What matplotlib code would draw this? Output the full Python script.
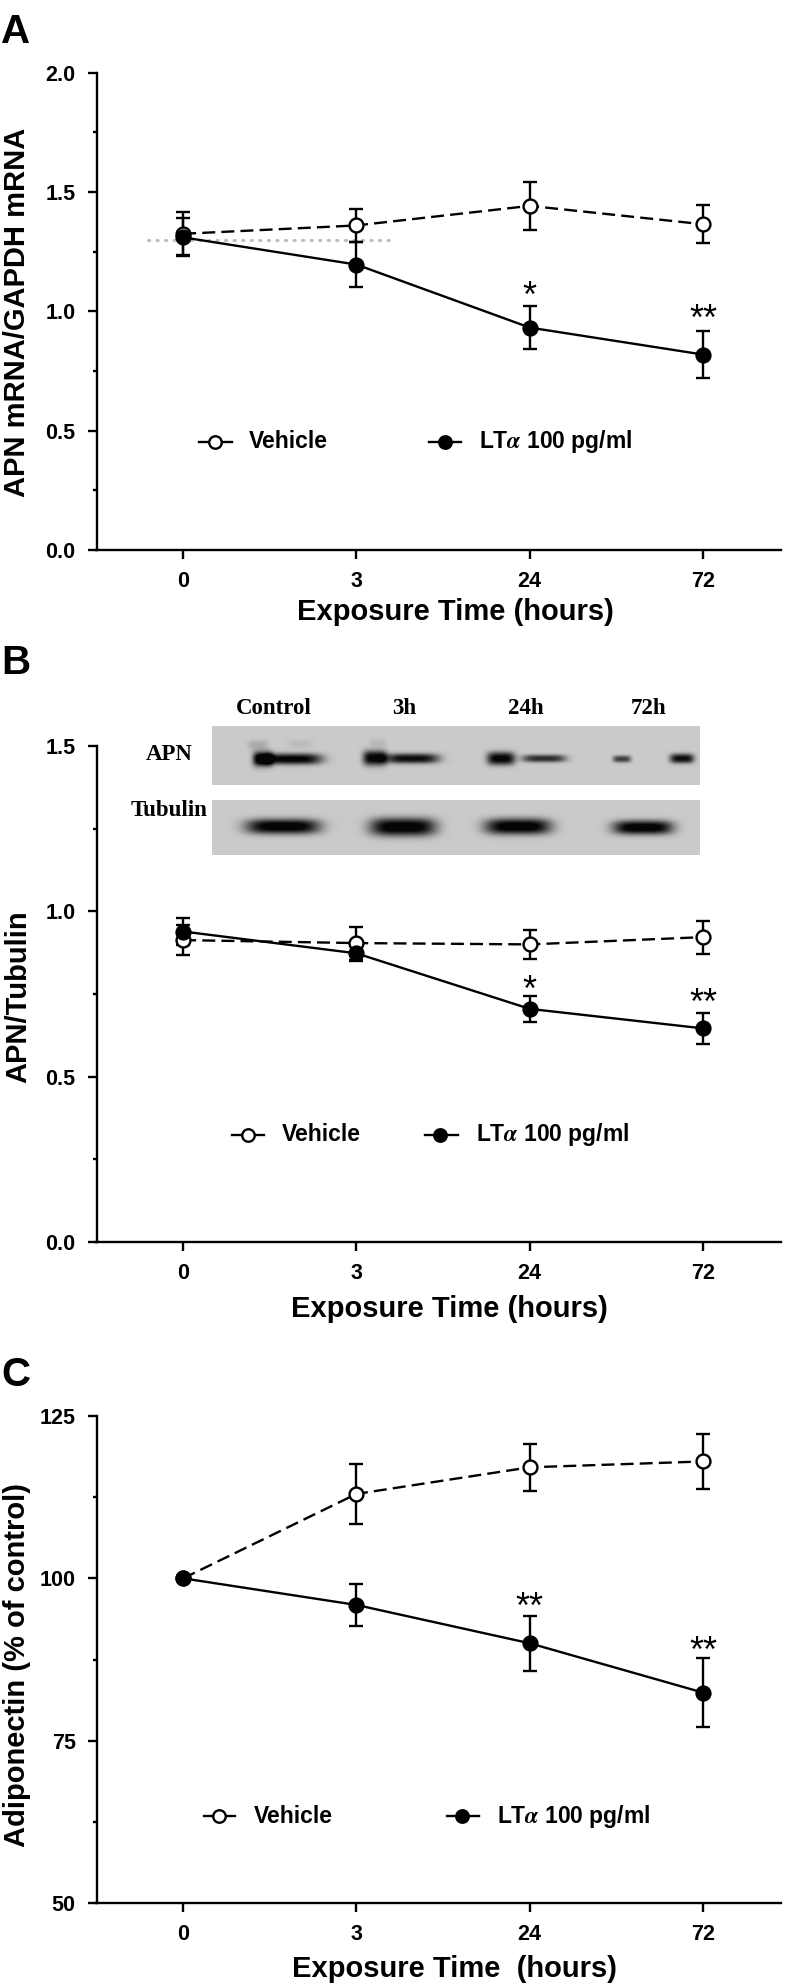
import numpy as np
import matplotlib
matplotlib.use("Agg")
import matplotlib.pyplot as plt
from matplotlib.ticker import MultipleLocator

W, H = 796, 1988

time_labels = ["0", "3", "24", "72"]

# Panel A : APN mRNA / GAPDH mRNA
a_vehicle = [1.325, 1.36, 1.442, 1.365]
a_vehicle_err = [0.09, 0.07, 0.10, 0.08]
a_lta = [1.31, 1.196, 0.932, 0.819]
a_lta_err = [0.08, 0.095, 0.09, 0.10]
a_stars = ["", "", "*", "**"]
a_star_y = [0, 0, 1.106, 1.009]
a_ref_y = 1.30
a_ref_x = [-0.2, 1.19]

# Panel B : APN / Tubulin
b_vehicle = [0.913, 0.904, 0.900, 0.922]
b_vehicle_err = [0.046, 0.05, 0.044, 0.05]
b_lta = [0.939, 0.873, 0.705, 0.646]
b_lta_err = [0.041, 0.022, 0.04, 0.047]
b_stars = ["", "", "*", "**"]
b_star_y = [0, 0, 0.793, 0.753]

# Panel C : Adiponectin (% of control)
c_vehicle = [100, 113.0, 117.1, 118.0]
c_vehicle_err = [0, 4.6, 3.6, 4.2]
c_lta = [100, 95.9, 90.0, 82.4]
c_lta_err = [0, 3.2, 4.2, 5.3]
c_stars = ["", "", "**", "**"]
c_star_y = [0, 0, 97.2, 90.3]

blot_lanes = ["Control", "3h", "24h", "72h"]
blot_rows = ["APN", "Tubulin"]
# bands: (center x, half length, center y, half thickness, darkness) in pixels
apn_bands = [
    (263, 10, 759, 7.5, 0.8), (292, 30, 759, 5.5, 0.8),
    (375, 12, 758, 7.5, 0.8), (412, 27, 758.5, 5.0, 0.75),
    (501, 14, 758.5, 6.5, 0.8), (544, 22, 758.5, 3.8, 0.62),
    (622, 9, 759, 3.5, 0.55), (682, 12, 758.5, 4.8, 0.75),
    (258, 10, 745, 5, 0.12), (300, 12, 744, 4, 0.06), (378, 8, 743, 4, 0.07),
]
tub_bands = [
    (283, 37, 826.5, 7.5, 0.85), (403, 33, 827, 9.0, 0.85),
    (518, 33, 826.5, 8.0, 0.85), (643, 30, 827.5, 7.0, 0.85),
]

plt.rcParams["font.family"] = ["Liberation Sans", "DejaVu Sans"]
plt.rcParams["font.weight"] = "bold"
plt.rcParams["mathtext.fontset"] = "stix"

fig = plt.figure(figsize=(W / 100, H / 100), dpi=100)
fig.patch.set_facecolor("white")

XL, XR = -0.5, 3.45
X0 = 96.5
STEP = 173.3
X1 = X0 + (XR - XL) * STEP


def add_axes_px(top, bottom):
    return fig.add_axes([X0 / W, 1 - bottom / H, (X1 - X0) / W, (bottom - top) / H])


def fpx(x, y):
    return x / W, 1 - y / H


LW = 1.7
MS = 10
DASH = (0, (5.5, 2.6))
STAR_FS = 26


def style_axes(ax, ylim, major, minor, fmt):
    ax.set_xlim(XL, XR)
    ax.set_ylim(*ylim)
    for s in ["top", "right"]:
        ax.spines[s].set_visible(False)
    for s in ["left", "bottom"]:
        ax.spines[s].set_linewidth(LW)
    ax.set_xticks(range(len(time_labels)))
    ax.set_xticklabels(time_labels)
    ax.yaxis.set_major_locator(MultipleLocator(major))
    ax.yaxis.set_minor_locator(MultipleLocator(minor))
    ax.yaxis.set_major_formatter(matplotlib.ticker.FormatStrFormatter(fmt))
    ax.tick_params(axis="both", which="major", direction="out", length=6.5, width=LW,
                   labelsize=15.5, pad=8.5)
    ax.tick_params(axis="y", which="minor", direction="out", length=3.2, width=LW)
    for lab in ax.get_xticklabels() + ax.get_yticklabels():
        lab.set_fontweight("bold")


def draw_series(ax, veh, veh_err, lta, lta_err):
    x = np.arange(len(veh))
    for vals, errs in ((veh, veh_err), (lta, lta_err)):
        idx = [i for i, e in enumerate(errs) if e > 0]
        ax.errorbar([x[i] for i in idx], [vals[i] for i in idx],
                    yerr=[errs[i] for i in idx], fmt="none", ecolor="black",
                    elinewidth=LW, capsize=4.8, capthick=LW, zorder=3)
    ax.plot(x, veh, color="black", lw=LW, linestyle=DASH, marker="o", ms=MS,
            mfc="white", mec="black", mew=LW, zorder=4)
    ax.plot(x, lta, color="black", lw=LW, linestyle="-", marker="o", ms=MS,
            mfc="black", mec="black", mew=LW, zorder=5)


def draw_stars(ax, stars, ys):
    for i, (s, y) in enumerate(zip(stars, ys)):
        if s:
            ax.annotate(s, (i, y), xytext=(0, -0.58 * STAR_FS), textcoords="offset points",
                        ha="center", va="baseline", fontsize=STAR_FS, fontweight="normal",
                        zorder=6)


def draw_legend(ax, y, veh_line, veh_mark, veh_text, lt_line, lt_mark, lt_text):
    ax.plot(veh_line, [y, y], color="black", lw=LW, clip_on=False)
    ax.plot([veh_mark], [y], marker="o", ms=9, mfc="white", mec="black", mew=LW,
            clip_on=False)
    ax.text(veh_text, y, "Vehicle", ha="left", va="center", fontsize=16.5, fontweight="bold")
    ax.plot(lt_line, [y, y], color="black", lw=LW, clip_on=False)
    ax.plot([lt_mark], [y], marker="o", ms=9, mfc="black", mec="black", mew=LW,
            clip_on=False)
    ax.text(lt_text, y, r"LT$\alpha$ 100 pg/ml", ha="left", va="center", fontsize=16.5,
            fontweight="bold")


# ---------------- Panel A ----------------
axA = add_axes_px(72.7, 550)
style_axes(axA, (0, 2.0), 0.5, 0.25, "%.1f")
axA.plot(a_ref_x, [a_ref_y, a_ref_y], color="#bdbdbd", lw=2.2, linestyle=(0, (0.4, 2.4)),
         dash_capstyle="round", zorder=1)
draw_series(axA, a_vehicle, a_vehicle_err, a_lta, a_lta_err)
draw_stars(axA, a_stars, a_star_y)
draw_legend(axA, 0.454, [0.09, 0.28], 0.185, 0.38, [1.42, 1.605], 1.513, 1.71)
fig.text(*fpx(17, 312), "APN mRNA/GAPDH mRNA", rotation=90, ha="center", va="center",
         fontsize=21, fontweight="bold")
fig.text(*fpx(455, 612), "Exposure Time (hours)", ha="center", va="center",
         fontsize=21, fontweight="bold")
fig.text(*fpx(15.5, 43), "A", ha="center", va="baseline", fontsize=29, fontweight="bold")

# ---------------- Panel B ----------------
axB = add_axes_px(746, 1242)
style_axes(axB, (0, 1.5), 0.5, 0.25, "%.1f")
draw_series(axB, b_vehicle, b_vehicle_err, b_lta, b_lta_err)
draw_stars(axB, b_stars, b_star_y)
draw_legend(axB, 0.325, [0.281, 0.469], 0.374, 0.571, [1.397, 1.585], 1.484, 1.687)
fig.text(*fpx(18, 997), "APN/Tubulin", rotation=90, ha="center", va="center",
         fontsize=21, fontweight="bold")
fig.text(*fpx(449, 1309), "Exposure Time (hours)", ha="center", va="center",
         fontsize=21, fontweight="bold")
fig.text(*fpx(15.5, 674), "B", ha="center", va="baseline", fontsize=29, fontweight="bold")


def draw_strip(x0, x1, y0, y1, bands, bg=0.79):
    ax = fig.add_axes([x0 / W, 1 - y1 / H, (x1 - x0) / W, (y1 - y0) / H])
    xs = np.arange(x0, x1) + 0.5
    ys = np.arange(y0, y1) + 0.5
    Xg, Yg = np.meshgrid(xs, ys)
    img = np.full(Xg.shape, bg, dtype=float)
    for (cx, hx, cy, hy, amp) in bands:
        img -= amp * np.exp(-np.abs((Xg - cx) / hx) ** 4 - np.abs((Yg - cy) / hy) ** 2.5)
    img = np.clip(img, 0.02, 1)
    ax.imshow(img, cmap="gray", vmin=0, vmax=1, extent=(x0, x1, y1, y0), aspect="auto",
              interpolation="bilinear")
    ax.set_axis_off()


draw_strip(212, 700, 726, 785, apn_bands)
draw_strip(212, 700, 800, 855, tub_bands)
lane_x = [274, 404, 526, 649]
for lx, lab in zip(lane_x, blot_lanes):
    fig.text(*fpx(lx, 709), lab, ha="center", va="center", fontsize=16.5,
             fontweight="bold", family=["Liberation Serif", "DejaVu Serif"])
for ry, lab in zip([755, 810], blot_rows):
    fig.text(*fpx(169.5, ry), lab, ha="center", va="center", fontsize=16.5,
             fontweight="bold", family=["Liberation Serif", "DejaVu Serif"])

# ---------------- Panel C ----------------
axC = add_axes_px(1416, 1903)
style_axes(axC, (50, 125), 25, 12.5, "%d")
draw_series(axC, c_vehicle, c_vehicle_err, c_lta, c_lta_err)
draw_stars(axC, c_stars, c_star_y)
draw_legend(axC, 63.35, [0.119, 0.30], 0.204, 0.41, [1.522, 1.705], 1.609, 1.813)
fig.text(*fpx(17, 1665), "Adiponectin (% of control)", rotation=90, ha="center",
         va="center", fontsize=21, fontweight="bold")
fig.text(*fpx(454, 1969), "Exposure Time  (hours)", ha="center", va="center",
         fontsize=21, fontweight="bold")
fig.text(*fpx(15.5, 1386), "C", ha="center", va="baseline", fontsize=29, fontweight="bold")

fig.savefig("out.png", dpi=100, facecolor="white")
